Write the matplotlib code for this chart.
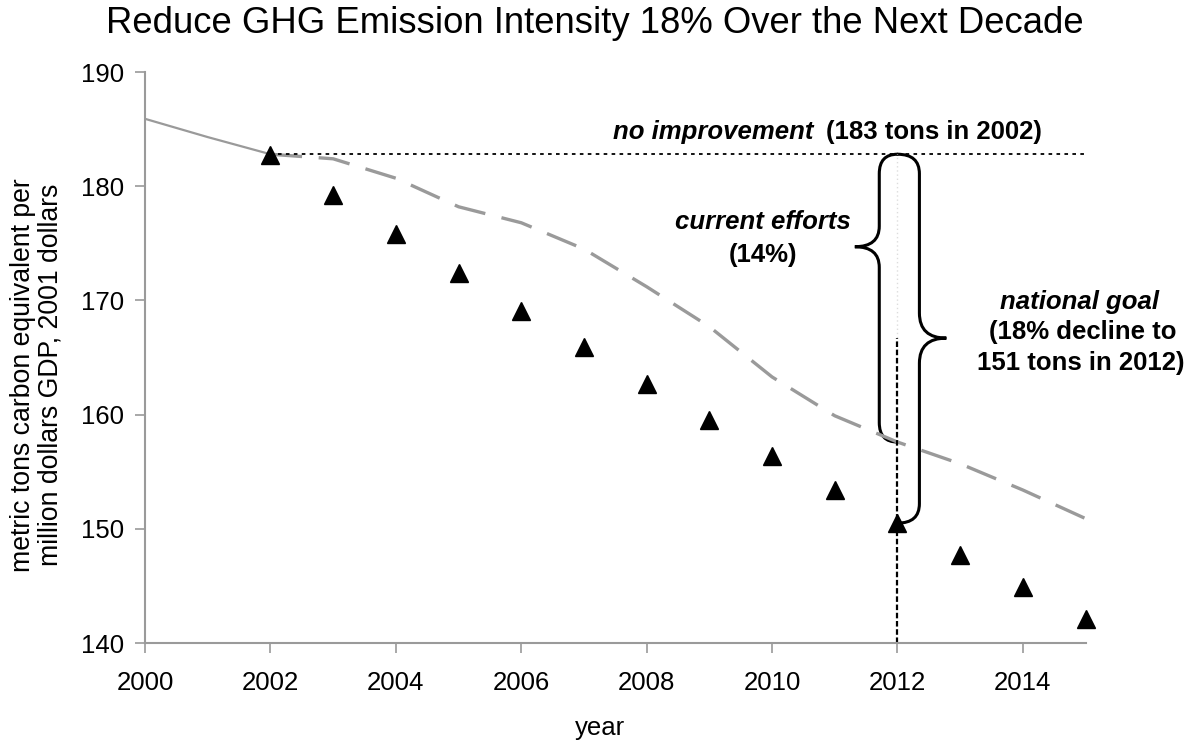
import numpy as np
import matplotlib
matplotlib.use("Agg")
import matplotlib.pyplot as plt
from matplotlib.path import Path
from matplotlib.patches import PathPatch

plt.rcParams['font.family'] = ['Liberation Sans', 'DejaVu Sans']

# historical intensity (solid gray line)
hist_years = [2000, 2001, 2002]
hist_vals = [185.9, 184.3, 182.8]

# current efforts projection (dashed gray line)
proj_years = list(range(2002, 2016))
proj_vals = [182.8, 182.4, 180.7, 178.2, 176.8, 174.5, 171.2, 167.7,
             163.3, 159.9, 157.6, 155.7, 153.4, 150.9]

# national goal path (triangles)
goal_years = list(range(2002, 2016))
goal_vals = [182.7, 179.2, 175.8, 172.4, 169.1, 165.9, 162.7, 159.5,
             156.4, 153.4, 150.5, 147.7, 144.9, 142.1]

no_improvement = 182.8
target_year = 2012
goal_mid = 166.7

x_ticks = list(range(2000, 2016, 2))
y_ticks = list(range(140, 191, 10))

fs = 18.5
gray = '#9a9a9a'

fig = plt.figure(figsize=(11.92, 7.4), dpi=100)
ax = fig.add_axes([0.1217, 0.131, 0.789, 0.7717])

ax.plot(hist_years, hist_vals, color=gray, lw=1.6, solid_capstyle='butt')
ax.plot(proj_years, proj_vals, color=gray, lw=2.4, dashes=(9.5, 5))
ax.axhline(no_improvement, xmin=(2002 - 2000) / 15, xmax=1, color='black',
           lw=1.3, dashes=(2, 2.4))
ax.plot(goal_years, goal_vals, linestyle='none', marker='^', ms=13,
        color='black', clip_on=False, zorder=4)

# vertical lines at 2012
ax.plot([target_year, target_year], [proj_vals[10], no_improvement],
        color='#dddddd', lw=1, dashes=(1, 2))
ax.plot([target_year, target_year], [140, goal_mid], color='black', lw=1.6,
        dashes=(2.5, 1.2))


def brace(x_end, x_stem, x_tip, y_top, y_bot, y_mid, r_end, r_tip):
    verts = [(x_end, y_top), (x_stem, y_top), (x_stem, y_top - r_end),
             (x_stem, y_mid + r_tip),
             (x_stem, y_mid), (x_tip, y_mid),
             (x_stem, y_mid), (x_stem, y_mid - r_tip),
             (x_stem, y_bot + r_end),
             (x_stem, y_bot), (x_end, y_bot)]
    codes = [Path.MOVETO, Path.CURVE3, Path.CURVE3, Path.LINETO,
             Path.CURVE3, Path.CURVE3, Path.CURVE3, Path.CURVE3,
             Path.LINETO, Path.CURVE3, Path.CURVE3]
    ax.add_patch(PathPatch(Path(verts, codes), fill=False, lw=2.2,
                           color='black', capstyle='round'))


brace(target_year, 2011.71, 2011.32, no_improvement, proj_vals[10], 174.7,
      1.7, 1.8)
brace(target_year, 2012.35, 2012.78, no_improvement, goal_vals[10], goal_mid,
      1.7, 2.2)

ax.text(2010.66, 184.75, 'no improvement', fontsize=fs, fontweight='bold',
        fontstyle='italic', ha='right', va='center')
ax.text(2010.86, 184.75, '(183 tons in 2002)', fontsize=fs, fontweight='bold',
        ha='left', va='center')
ax.text(2009.86, 176.9, 'current efforts', fontsize=fs, fontweight='bold',
        fontstyle='italic', ha='center', va='center')
ax.text(2009.86, 174.0, '(14%)', fontsize=fs, fontweight='bold',
        ha='center', va='center')
ax.text(2014.9, 169.9, 'national goal', fontsize=fs, fontweight='bold',
        fontstyle='italic', ha='center', va='center', clip_on=False)
ax.text(2014.95, 167.2, '(18% decline to', fontsize=fs, fontweight='bold',
        ha='center', va='center', clip_on=False)
ax.text(2014.92, 164.5, '151 tons in 2012)', fontsize=fs, fontweight='bold',
        ha='center', va='center', clip_on=False)

ax.set_xlim(2000, 2015)
ax.set_ylim(140, 190)
ax.set_xticks(x_ticks)
ax.set_yticks(y_ticks)
ax.tick_params(axis='both', labelsize=fs, color=gray, length=7, width=1.2)
ax.tick_params(axis='x', pad=13)
ax.tick_params(axis='y', pad=8)
for side in ['top', 'right']:
    ax.spines[side].set_visible(False)
for side in ['left', 'bottom']:
    ax.spines[side].set_color(gray)
    ax.spines[side].set_linewidth(1.5)

fig.text(0.499, 0.968, 'Reduce GHG Emission Intensity 18% Over the Next Decade',
         fontsize=26.3, ha='center', va='center')
fig.text(0.503, 0.016, 'year', fontsize=fs, ha='center', va='center')
fig.text(0.031, 0.493,
         'metric tons carbon equivalent per\nmillion dollars GDP, 2001 dollars',
         fontsize=19.2, rotation=90, ha='center', va='center',
         multialignment='center', linespacing=1.1)

fig.savefig('out.png', dpi=100)
